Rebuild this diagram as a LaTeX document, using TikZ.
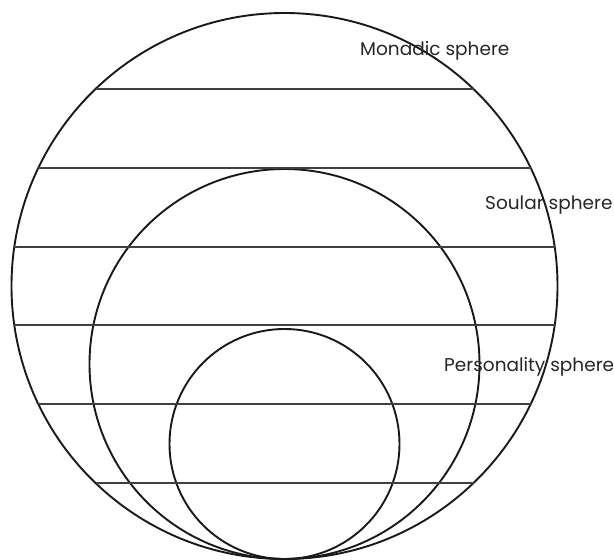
\documentclass[tikz,border=0pt]{standalone}
\usepackage{fontspec}
\setmainfont{Poppins}

\begin{document}
\begin{tikzpicture}[x=1pt, y=-1pt,
  sphere/.style={draw=black!90, line width=1.9pt},
  layer/.style={draw=black!75, line width=1.1pt},
  lbl/.style={font=\fontsize{18.5}{22}\selectfont, text=black!85, inner sep=0pt, anchor=base west}]
\useasboundingbox (0,0) rectangle (614,560);

% ---------- spheres ----------
\draw[sphere] (284.5,286) circle[radius=273pt];
\draw[sphere] (284.5,364) circle[radius=195pt];
\draw[sphere] (284.5,444) circle[radius=115pt];

% ---------- layers ----------
\foreach \y/\w in {89/189, 168/246.2, 247/270.2, 325/270.2, 404/246.2, 483/189} {
  \draw[layer] (284.5-\w,\y) -- (284.5+\w,\y);
}

% ---------- labels ----------
\node[lbl] (monadic)     at (360,55)  {Monadic sphere};
\node[lbl] (soular)      at (485,209) {Soular sphere};
\node[lbl] (personality) at (444,371) {Personality sphere};
\end{tikzpicture}
\end{document}
